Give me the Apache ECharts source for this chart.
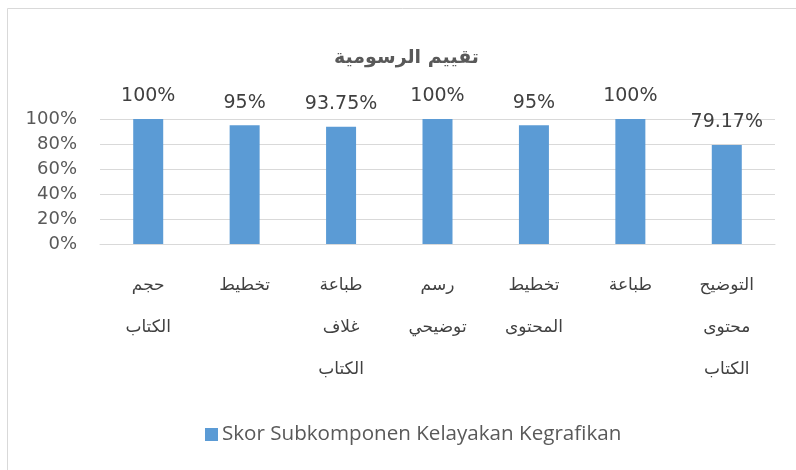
<!DOCTYPE html>
<html><head><meta charset="utf-8">
<script src="https://cdn.jsdelivr.net/npm/echarts@6/dist/echarts.min.js"></script>
<style>html,body{margin:0;padding:0;background:#fff}#c{width:796px;height:470px}</style>
</head><body><div id="c"></div>
<script>
const title = 'تقييم الرسومية';
const categories = ['حجم\nالكتاب', 'تخطيط', 'طباعة\nغلاف\nالكتاب', 'رسم\nتوضيحي', 'تخطيط\nالمحتوى', 'طباعة', 'التوضيح\nمحتوى\nالكتاب'];
const values = [100, 95, 93.75, 100, 95, 100, 79.17];
const seriesName = 'Skor Subkomponen Kelayakan Kegrafikan';
const yTicks = [0, 20, 40, 60, 80, 100];

const chart = echarts.init(document.getElementById('c'));
chart.setOption({
  animation: false,
  backgroundColor: '#fff',
  graphic: [{type:'rect', shape:{x:7.5,y:8.5,width:800,height:480}, style:{fill:'none', stroke:'#d9d9d9', lineWidth:1}, silent:true}],
  title: {text: title, left: 329, top: 44, textStyle:{fontFamily:'DejaVu Sans', fontSize:19, fontWeight:'bold', color:'#595959'}},
  grid: {left: 100, right: 21, top: 119, bottom: 226, containLabel:false},
  legend: {bottom: 20, left: 200, itemWidth: 13, itemHeight: 13, itemGap: 5, icon:'rect',
    textStyle:{fontFamily:'Open Sans', fontSize:20.6, color:'#595959', padding:[0,0,0,-1]}},
  xAxis: {type:'category', data: categories,
    axisLine:{lineStyle:{color:'#d9d9d9', width:1}}, axisTick:{show:false},
    axisLabel:{fontFamily:'DejaVu Sans', fontSize:17, color:'#404040', lineHeight:42, margin:21, interval:0, verticalAlign:'top'}},
  yAxis: {type:'value', min:0, max:100, interval:20,
    axisLabel:{formatter: v => yTicks.includes(v) ? v + '%' : '', fontFamily:'DejaVu Sans', fontSize:18, color:'#595959', margin:23},
    splitLine:{lineStyle:{color:'#d9d9d9', width:1}}, axisLine:{show:false}, axisTick:{show:false}},
  series: [{name: seriesName, type:'bar', data: values, barWidth: 30, itemStyle:{color:'#5b9bd5'},
    label:{show:true, position:'top', distance:13, formatter: p => p.value + '%', fontFamily:'DejaVu Sans', fontSize:19, color:'#404040'}}]
});
</script></body></html>
